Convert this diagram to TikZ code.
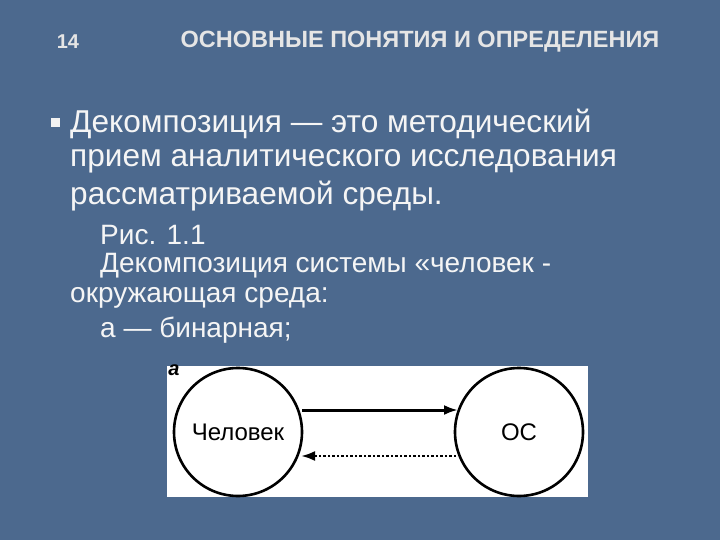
\documentclass[tikz,border=0pt]{standalone}
\usepackage{fontspec}
\setmainfont{Liberation Sans}
\usetikzlibrary{arrows.meta}
\begin{document}
\begin{tikzpicture}[x=1pt,y=-1pt,
  body/.style={anchor=west,text=white!92!gray,font=\fontsize{31.6}{36}\selectfont,inner sep=0},
  small/.style={anchor=west,text=white!92!gray,font=\fontsize{28}{32}\selectfont,inner sep=0},
  circ/.style={circle,draw=black,line width=2.6pt,minimum size=128pt,inner sep=0,font=\fontsize{24}{26}\selectfont}]
\definecolor{bg}{RGB}{76,105,142}
\fill[bg] (0,0) rectangle (720,540);
\useasboundingbox (0,0) rectangle (720,540);
\node[anchor=center,text=white!80!gray,font=\bfseries\fontsize{20}{22}\selectfont] (num) at (68,42) {14};
\node[anchor=center,text=white!80!gray,font=\bfseries\fontsize{23.5}{26}\selectfont] (title) at (420,42) {ОСНОВНЫЕ ПОНЯТИЯ И ОПРЕДЕЛЕНИЯ};
\node[fill=white!90!gray,minimum size=9pt,inner sep=0] (bul) at (55,123) {};
\node[body] (l1) at (70,124) {Декомпозиция — это методический};
\node[body] (l2) at (70,161) {прием аналитического исследования};
\node[body] (l3) at (70,196) {рассматриваемой среды.};
\node[small] (s1) at (100,235) {Рис. 1.1};
\node[small] (s2) at (100,266) {Декомпозиция системы «человек -};
\node[small] (s3) at (70,298) {окружающая среда:};
\node[small] (s4) at (100,330) {а — бинарная;};
\fill[white] (167,366) rectangle (588,497);
\node[font=\bfseries\itshape\fontsize{20}{20}\selectfont,inner sep=0] (a) at (174,370) {a};
\node[circ] (h) at (238,432) {Человек};
\node[circ] (os) at (519,432) {ОС};
\draw[line width=3pt,-{Latex[length=14pt,width=10pt]}] (302,410) -- (458,410);
\draw[line width=2.5pt,dotted,-{Latex[length=14pt,width=10pt]}] (456,456) -- (301,456);
\end{tikzpicture}
\end{document}
